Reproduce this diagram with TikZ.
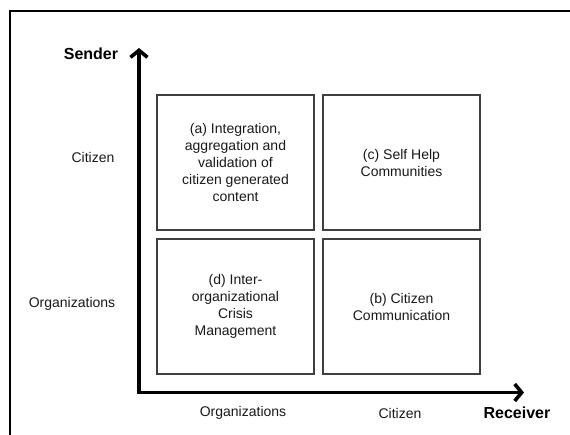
\documentclass[tikz,border=0pt]{standalone}
\usepackage{fontspec}
\setmainfont{Liberation Sans}
\usetikzlibrary{positioning,arrows.meta}

\begin{document}
\begin{tikzpicture}
			[x=1pt,y=-1pt,
			every node/.style={font=\fontsize{14}{17}\selectfont,text=black!90},
			cell/.style={draw=black!75,line width=1.2pt,minimum width=157pt,minimum height=135pt,inner sep=0pt,outer sep=0pt,align=center},
			axis/.style={line width=3.6pt,-{Straight Barb[length=7pt,width=17pt]}},
			axisname/.style={font=\fontsize{16}{19}\selectfont\bfseries,text=black},
			node distance=9pt]
			\useasboundingbox (0,0) rectangle (570,434);
			\draw[line width=2pt] (10,436) -- (10,11) -- (572,11);
			\node[cell] (a) at (235.5,162.5) {(a) Integration,\\aggregation and\\validation of\\citizen generated\\content};
			\node[cell,right=of a] (c) {(c) Self Help\\Communities};
			\node[cell,below=of a] (d) {(d) Inter-\\organizational\\Crisis\\Management};
			\node[cell,below=of c] (b) {(b) Citizen\\Communication};
			\coordinate (origin) at (139,392.5);
			\coordinate (sendertip) at (139,48);
			\coordinate (receivertip) at (524,392.5);
			\draw[axis,line cap=rect] (origin) -- (sendertip);
			\draw[axis,line cap=rect] (origin) -- (receivertip);
			\node[axisname] (sender) at (91,54) {Sender};
			\node[axisname] (receiver) at (517,413) {Receiver};
			\node (sendcit) at (93,157) {Citizen};
			\node (sendorg) at (72,304) {Organizations};
			\node (recorg) at (243,413) {Organizations};
			\node (reccit) at (400,413) {Citizen};
		\end{tikzpicture}
\end{document}
